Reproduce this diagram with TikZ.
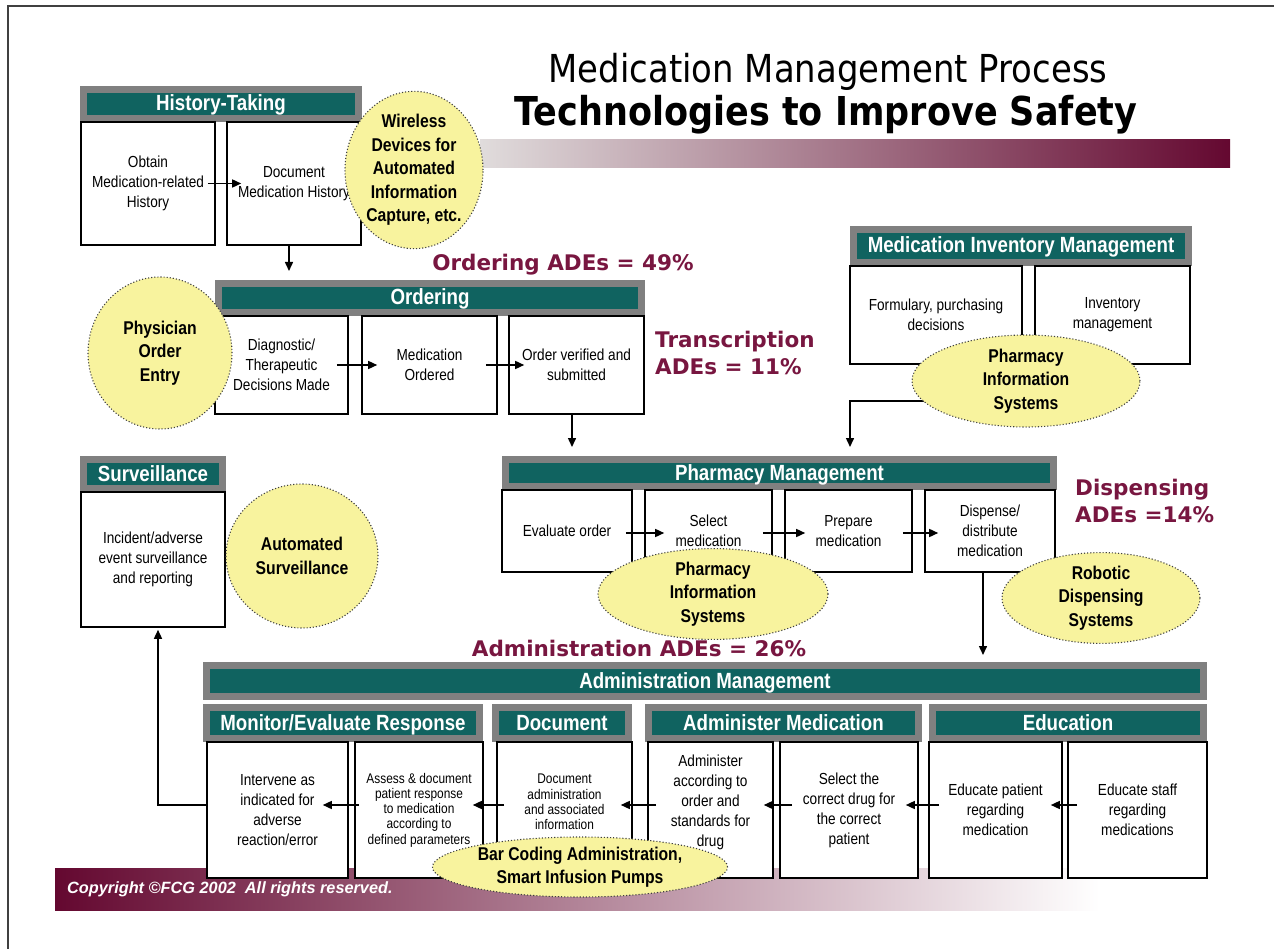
\documentclass[tikz,border=0pt]{standalone}
\usepackage{fontspec}
\setmainfont{Liberation Sans}[FakeStretch=0.85]
\newfontfamily\titlefont{DejaVu Sans}[FakeStretch=0.88]
\newfontfamily\adefont{DejaVu Sans}
\newfontfamily\copyfont{Liberation Sans}
\usetikzlibrary{shapes.geometric,arrows.meta,calc}

\definecolor{hdrteal}{RGB}{16,99,96}
\definecolor{hdrgrey}{RGB}{128,128,128}
\definecolor{techyellow}{RGB}{248,243,158}
\definecolor{adered}{RGB}{120,22,64}
\definecolor{barmaroon}{RGB}{100,8,48}
\definecolor{barlight}{RGB}{224,220,220}

\tikzset{
  wh/.style 2 args={minimum width=#1pt, minimum height=#2pt},
  hdr/.style={fill=hdrteal, draw=hdrgrey, line width=7pt, text=white, inner sep=0pt,
              text height=15.5pt, text depth=1.5pt,
              font=\bfseries\fontsize{22}{24}\selectfont},
  stepbox/.style={draw=black, fill=white, line width=1.6pt, inner sep=2pt, align=center,
                  font=\fontsize{16}{20}\selectfont},
  smallbox/.style={stepbox, font=\fontsize{14}{15.3}\selectfont},
  tech/.style={ellipse, fill=techyellow, draw=black!75, dotted, line width=1.1pt, inner sep=0pt,
               align=center, font=\bfseries\fontsize{18.5}{23.5}\selectfont},
  ade/.style={text=adered, font=\adefont\bfseries\fontsize{21.5}{27}\selectfont, align=left, inner sep=0pt},
  arr/.style={line width=1.5pt, -{Triangle[length=9pt,width=8pt]}},
}

\begin{document}
\begin{tikzpicture}[x=1pt,y=-1pt]
\useasboundingbox (0,0) rectangle (1274,949);

% page frame
\draw[line width=1.5pt, black!75] (8,949) -- (8,6) -- (1274,6);

% shaded bars
\shade[left color=barlight, right color=barmaroon] (480,140) rectangle (1230,168);
\shade[left color=barmaroon, right color=white] (55,868) rectangle (1100,910);

% title
\node[font=\titlefont\fontsize{38.5}{40}\selectfont] (title1) at (828,72) {Medication Management Process};
\node[font=\titlefont\bfseries\fontsize{39.8}{42}\selectfont] (title2) at (826,115) {Technologies to Improve Safety};

% History-Taking
\node[hdr, wh={275}{29}] (hHist) at (221,104) {History-Taking};
\node[stepbox, wh={134}{123}] (hist1) at (148,183.5) {Obtain\\Medication-related\\History};
\node[stepbox, wh={134}{123}] (hist2) at (294,183.5) {Document\\Medication History};

% Ordering
\node[hdr, wh={423}{29}] (hOrd) at (430,298) {Ordering};
\node[stepbox, wh={133}{98}] (ord1) at (281.5,365) {Diagnostic/\\Therapeutic\\Decisions Made};
\node[stepbox, wh={135}{98}] (ord2) at (429.5,365) {Medication\\Ordered};
\node[stepbox, wh={135}{98}] (ord3) at (576.5,365) {Order verified and\\submitted};

% Medication Inventory Management
\node[hdr, wh={335}{33}] (hInv) at (1021,246) {Medication Inventory Management};
\node[stepbox, wh={172}{98}] (inv1) at (936,315) {Formulary, purchasing\\decisions};
\node[stepbox, wh={155}{98}] (inv2) at (1112.5,315) {Inventory\\management};

% Pharmacy Management
\node[hdr, wh={548}{27}] (hPh) at (779.5,473) {Pharmacy Management};
\node[stepbox, wh={130}{82}] (ph1) at (567,531) {Evaluate order};
\node[stepbox, wh={127}{82}] (ph2) at (708.5,531) {Select\\medication};
\node[stepbox, wh={127}{82}] (ph3) at (848.5,531) {Prepare\\medication};
\node[stepbox, wh={130}{82}] (ph4) at (990,531) {Dispense/\\distribute\\medication};

% Surveillance
\node[hdr, wh={139}{29}] (hSurv) at (153,474) {Surveillance};
\node[stepbox, wh={144}{135}] (surv) at (153,559.5) {Incident/adverse\\event surveillance\\and reporting};

% Administration Management
\node[hdr, wh={997}{31}] (hAdm) at (705,681) {Administration Management};
\node[hdr, wh={273}{31}] (hMon) at (343,723) {Monitor/Evaluate Response};
\node[hdr, wh={133}{31}] (hDoc) at (562,723) {Document};
\node[hdr, wh={270}{31}] (hAdmin) at (783.5,723) {Administer Medication};
\node[hdr, wh={271}{31}] (hEdu) at (1068,723) {Education};
\node[stepbox, wh={141}{136}] (adm1) at (277.5,810) {Intervene as\\indicated for\\adverse\\reaction/error};
\node[smallbox, wh={128}{136}] (adm2) at (419,810) {Assess \& document\\patient response\\to medication\\according to\\defined parameters};
\node[smallbox, wh={135}{136}] (adm3) at (564.5,810) {Document\\administration\\and associated\\information\\[0.7pt]};
\node[stepbox, wh={125}{136}] (adm4) at (710.5,810) {Administer\\according to\\order and\\standards for\\drug\\[-2pt]};
\node[stepbox, wh={138}{136}] (adm5) at (849,810) {Select the\\correct drug for\\the correct\\patient};
\node[stepbox, wh={133}{136}] (adm6) at (995.5,810) {Educate patient\\regarding\\medication};
\node[stepbox, wh={139}{136}] (adm7) at (1137.5,810) {Educate staff\\regarding\\medications};

% flow arrows
\draw[arr] ([xshift=-8pt]hist1.east) -- ([xshift=15pt]hist2.west);
\coordinate (histOut) at ([xshift=-5pt]hist2.south);
\draw[arr, shorten >=9pt] (histOut) -- (histOut |- hOrd.north);

\draw[arr] ([xshift=-12pt]ord1.east) -- ([xshift=16pt]ord2.west);
\draw[arr] ([xshift=-12pt]ord2.east) -- ([xshift=16pt]ord3.west);
\coordinate (ordOut) at ([xshift=-4.5pt]ord3.south);
\draw[arr, shorten >=9pt] (ordOut) -- (ordOut |- hPh.north);

\coordinate (invTurn) at (850,401);
\draw[arr, shorten >=9pt] (inv1.center |- invTurn) -- (invTurn) -- (invTurn |- hPh.north);

\draw[arr] ([xshift=-7pt,yshift=-2pt]ph1.east) -- ([xshift=20pt,yshift=-2pt]ph2.west);
\draw[arr] ([xshift=-10pt,yshift=-2pt]ph2.east) -- ([xshift=21pt,yshift=-2pt]ph3.west);
\draw[arr] ([xshift=-10pt,yshift=-2pt]ph3.east) -- ([xshift=14pt,yshift=-2pt]ph4.west);
\coordinate (phOut) at ([xshift=-7pt]ph4.south);
\draw[arr, shorten >=7pt] (phOut) -- (phOut |- hAdm.north);

\draw[arr] ([xshift=10pt,yshift=5pt]adm7.west) -- ([xshift=-12pt,yshift=5pt]adm6.east);
\draw[arr] ([xshift=11pt,yshift=5pt]adm6.west) -- ([xshift=-13pt,yshift=5pt]adm5.east);
\draw[arr] ([xshift=13pt,yshift=5pt]adm5.west) -- ([xshift=-10pt,yshift=5pt]adm4.east);
\draw[arr] ([xshift=9pt,yshift=5pt]adm4.west) -- ([xshift=-12pt,yshift=5pt]adm3.east);
\draw[arr] ([xshift=8pt,yshift=5pt]adm3.west) -- ([xshift=-11pt,yshift=5pt]adm2.east);
\draw[arr] ([xshift=5pt,yshift=5pt]adm2.west) -- ([xshift=-26pt,yshift=5pt]adm1.east);
\draw[arr, shorten >=2pt] ([yshift=5pt]adm1.west) -| ([xshift=5pt]surv.south);

% technology ellipses
\node[tech, wh={138}{155}] (wireless) at (414,170) {Wireless\\Devices for\\Automated\\Information\\Capture, etc.};
\node[tech, wh={144}{152}] (cpoe) at (160,353) {Physician\\Order\\Entry};
\node[tech, wh={228}{92}] (pisInv) at (1026,381) {Pharmacy\\Information\\Systems};
\node[tech, wh={230}{90}] (pisPh) at (713,594) {Pharmacy\\Information\\Systems};
\node[tech, wh={198}{90}] (robot) at (1101,598) {Robotic\\Dispensing\\Systems};
\node[tech, wh={152}{144}] (autosurv) at (302,556) {Automated\\Surveillance};
\node[tech, wh={295}{60}] (barcode) at (580,867) {Bar Coding Administration,\\Smart Infusion Pumps};

% ADE rates
\node[ade] (adeOrd) at (563,265) {Ordering ADEs = 49\%};
\node[ade, anchor=west] (adeTrans) at (655,353) {Transcription\\ADEs = 11\%};
\node[ade, anchor=west] (adeDisp) at (1075,501) {Dispensing\\ADEs =14\%};
\node[ade] (adeAdm) at (639,648) {Administration ADEs = 26\%};

% footer
\node[anchor=west, text=white, inner sep=0pt, font=\copyfont\bfseries\itshape\fontsize{16.3}{18}\selectfont] (copyright) at (67,889) {Copyright ©FCG 2002\ \ All rights reserved.};
\end{tikzpicture}
\end{document}
